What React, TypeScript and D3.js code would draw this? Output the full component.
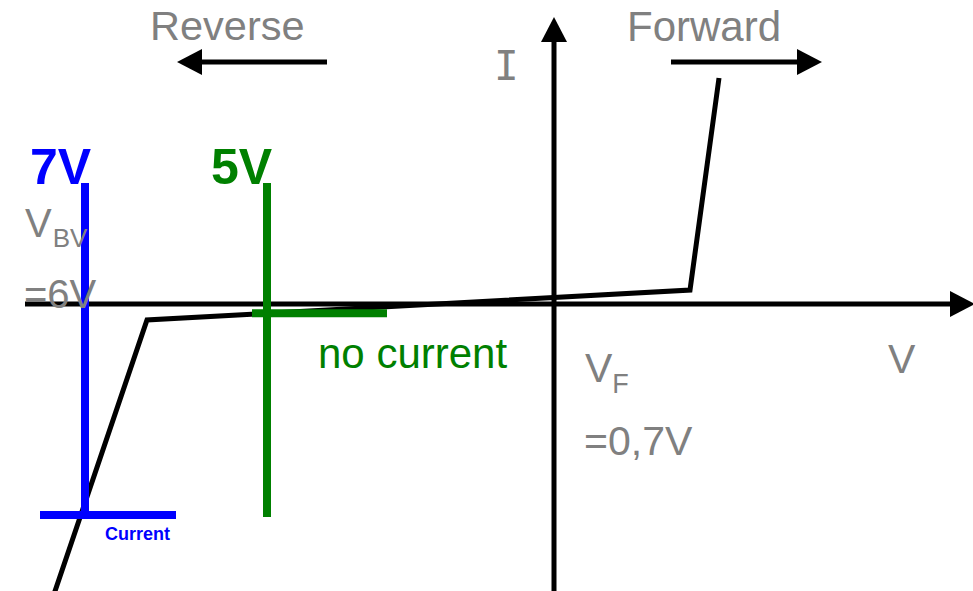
import React from "react";
import * as d3 from "d3";

// Schematic diode I–V characteristic, values in abstract diagram units (origin = 0,0)
const curveV = [-50.2, -40.7, 13.6, 16.5];
const curveI = [-29.6, -1.6, 1.4, 22.6];

const axisV = [-52.9, 42.1];
const axisI = [-28.7, 28.7];

const zenerV = -46.9; // 7V probe line
const zenerTop = 12.1;
const zenerBottom = -21.1;
const zenerBar = [-51.4, -37.8];

const blockV = -28.7; // 5V probe line
const blockTop = 12.1;
const blockBottom = -21.3;
const blockBarI = -0.93;
const blockBar = [-30.2, -16.7];

const reverseArrow = [-22.7, -37.7];
const forwardArrow = [11.7, 26.8];
const arrowI = 24.2;

const W = 973;
const H = 591;

export default function App() {
  const x = d3.scaleLinear().domain([-55.4, 41.9]).range([0, W]);
  const y = d3.scaleLinear().domain([30.4, -28.7]).range([0, H]);

  const pts: [number, number][] = curveV.map((v, k) => [x(v), y(curveI[k])]);
  const line = d3.line();

  const gray = "#808080";
  const blue = "#0000FF";
  const green = "#008000";
  const sans = "'Liberation Sans', Arial, sans-serif";

  const ox = x(0);
  const oy = y(0);
  const head = 25;
  const half = 13;

  const hArrow = (x1: number, x2: number, yy: number, key: string) => {
    const dir = Math.sign(x2 - x1);
    const base = x2 - dir * head;
    return (
      <g key={key}>
        <line x1={x1} y1={yy} x2={base} y2={yy} stroke="#000" strokeWidth={5} />
        <polygon points={`${x2},${yy} ${base},${yy - half} ${base},${yy + half}`} fill="#000" />
      </g>
    );
  };

  return (
    <div style={{ position: "absolute", left: 0, top: 0 }}>
      <svg width={W} height={H} style={{ display: "block", background: "#fff" }}>
        {/* axes */}
        {hArrow(x(axisV[0]), x(axisV[1]), oy, "haxis")}
        <line x1={ox} y1={y(axisI[0])} x2={ox} y2={y(axisI[1]) + head} stroke="#000" strokeWidth={5} />
        <polygon
          points={`${ox},${y(axisI[1])} ${ox - half},${y(axisI[1]) + head} ${ox + half},${y(axisI[1]) + head}`}
          fill="#000"
        />

        {/* direction arrows */}
        {hArrow(x(reverseArrow[0]), x(reverseArrow[1]), y(arrowI), "rev")}
        {hArrow(x(forwardArrow[0]), x(forwardArrow[1]), y(arrowI), "fwd")}

        {/* curve */}
        <path d={line(pts) || ""} fill="none" stroke="#000" strokeWidth={5} strokeLinejoin="miter" />

        {/* 7V line */}
        <line x1={x(zenerV)} y1={y(zenerTop)} x2={x(zenerV)} y2={y(zenerBottom) + 4} stroke={blue} strokeWidth={8} />
        <line x1={x(zenerBar[0])} y1={y(zenerBottom)} x2={x(zenerBar[1])} y2={y(zenerBottom)} stroke={blue} strokeWidth={8} />

        {/* 5V line */}
        <line x1={x(blockV)} y1={y(blockTop)} x2={x(blockV)} y2={y(blockBottom)} stroke={green} strokeWidth={8} />
        <line x1={x(blockBar[0])} y1={y(blockBarI)} x2={x(blockBar[1])} y2={y(blockBarI)} stroke={green} strokeWidth={8} />

        {/* texts */}
        <g fontFamily={sans}>
          <text x={150} y={40} fontSize={41.5} fill={gray}>Reverse</text>
          <text x={627} y={41} fontSize={42} fill={gray}>Forward</text>
          <text x={494} y={80} fontSize={41} fill={gray} fontFamily="'DejaVu Sans Mono', monospace">I</text>
          <text x={30} y={184} fontSize={50} fontWeight="bold" fill={blue}>7V</text>
          <text x={211} y={184} fontSize={50} fontWeight="bold" fill={green}>5V</text>
          <text x={25} y={237} fontSize={40} fill={gray}>
            V<tspan fontSize={26} dx={1} dy={10}>BV</tspan>
          </text>
          <text x={24} y={308} fontSize={40} fill={gray}>=6V</text>
          <text x={318} y={368} fontSize={42} fill={green}>no current</text>
          <text x={585} y={382} fontSize={41} fill={gray}>
            V<tspan fontSize={27} dx={0} dy={11}>F</tspan>
          </text>
          <text x={584} y={455} fontSize={41} fill={gray}>=0,7V</text>
          <text x={888} y={373} fontSize={41} fill={gray}>V</text>
          <text x={105} y={540} fontSize={18} fontWeight="bold" fill={blue}>Current</text>
        </g>
      </svg>
    </div>
  );
}
